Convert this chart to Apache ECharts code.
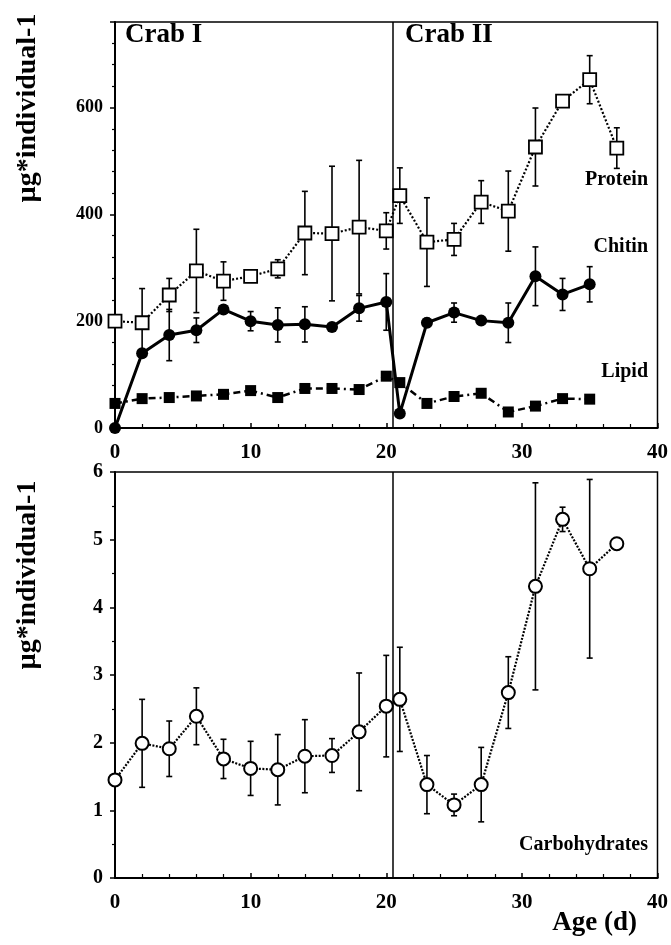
<!DOCTYPE html>
<html style="height: 100%">
<head>
<meta charset="utf-8">
<script src="https://cdn.jsdelivr.net/npm/echarts@6/dist/echarts.min.js"></script>
</head>
<body style="height: 100%; margin: 0; background-color: #fff">
<div id="container" style="width: 671px; height: 945px"></div>
<script type="text/javascript">
// age in days
var days = [0, 2, 4, 6, 8, 10, 12, 14, 16, 18, 20, 21, 23, 25, 27, 29, 31, 33, 35, 37];
var days2 = [0, 2, 4, 6, 8, 10, 12, 14, 16, 18, 20, 21, 23, 25, 27, 29, 31, 33, 35];

var protein = [200, 197, 249, 294, 275, 284, 298, 365, 364, 376, 369, 435, 348, 353, 423, 406, 526, 612, 652, 524];
var proteinSd = [null, 64, 31, 78, 36, 8, 17, 78, 126, 125, 34, 52, 83, 30, 40, 75, 73, null, 45, 38];

var chitin = [0, 140, 174, 183, 222, 200, 193, 194, 189, 224, 236, 27, 197, 216, 201, 197, 284, 250, 269];
var chitinSd = [null, null, 48, 23, null, 18, 32, 33, null, 24, 53, null, 8, 18, 7, 37, 55, 30, 33];

var lipid = [46, 55, 57, 60, 63, 70, 57, 74, 74, 72, 97, 85, 46, 59, 65, 30, 41, 55, 54];

var carbo = [1.45, 1.99, 1.91, 2.39, 1.76, 1.62, 1.60, 1.80, 1.81, 2.16, 2.54, 2.64, 1.38, 1.08, 1.38, 2.74, 4.31, 5.30, 4.57, 4.94];
var carboSd = [null, 0.65, 0.41, 0.42, 0.29, 0.40, 0.52, 0.54, 0.25, 0.87, 0.75, 0.77, 0.43, 0.16, 0.55, 0.53, 1.53, 0.18, 1.32, null];

var moultDay = 20.5;

var FONT = 'Liberation Serif';

function pairs(xs, ys) {
    return xs.map(function (x, i) { return [x, ys[i]]; });
}
function errData(xs, ys, sd) {
    var out = [];
    xs.forEach(function (x, i) {
        if (sd[i] != null) out.push([x, ys[i] - sd[i], ys[i] + sd[i]]);
    });
    return out;
}
function errSeries(idx, data) {
    return {
        type: 'custom',
        xAxisIndex: idx,
        yAxisIndex: idx,
        z: 1,
        silent: true,
        data: data,
        encode: { x: 0, y: [1, 2] },
        renderItem: function (params, api) {
            var lo = api.coord([api.value(0), api.value(1)]);
            var hi = api.coord([api.value(0), api.value(2)]);
            var w = 3;
            var st = { stroke: '#000', lineWidth: 1.6 };
            return {
                type: 'group',
                children: [
                    { type: 'line', shape: { x1: lo[0], y1: lo[1], x2: hi[0], y2: hi[1] }, style: st },
                    { type: 'line', shape: { x1: lo[0] - w, y1: lo[1], x2: lo[0] + w, y2: lo[1] }, style: st },
                    { type: 'line', shape: { x1: hi[0] - w, y1: hi[1], x2: hi[0] + w, y2: hi[1] }, style: st }
                ]
            };
        }
    };
}

var chart = echarts.init(document.getElementById('container'));

function xAxisCfg(idx) {
    return {
        gridIndex: idx,
        type: 'value',
        min: 0,
        max: 40,
        interval: 10,
        axisLine: { show: true, lineStyle: { color: '#000', width: 2 } },
        axisTick: { show: true, inside: true, length: 5, lineStyle: { color: '#000', width: 1.5 } },
        minorTick: { show: true, splitNumber: 5, length: 4, lineStyle: { color: '#000', width: 1.2 } },
        splitLine: { show: false },
        axisLabel: { color: '#000', fontFamily: FONT, fontWeight: 'bold', fontSize: 21, margin: 14 }
    };
}
function yAxisCfg(idx, max, interval, minorSplit, fs, showMax) {
    return {
        gridIndex: idx,
        type: 'value',
        min: 0,
        max: max,
        interval: interval,
        axisLine: { show: true, lineStyle: { color: '#000', width: 2 } },
        axisTick: { show: true, inside: false, length: 5, lineStyle: { color: '#000', width: 1.5 } },
        minorTick: { show: true, splitNumber: minorSplit, length: 3, lineStyle: { color: '#000', width: 1.2 } },
        splitLine: { show: false },
        axisLabel: {
            color: '#000', fontFamily: FONT, fontWeight: 'bold', fontSize: fs, margin: 12,
            showMaxLabel: showMax,
            formatter: function (v) { return (v % interval === 0) ? String(v) : ''; }
        }
    };
}

var vline = {
    silent: true,
    symbol: 'none',
    label: { show: false },
    lineStyle: { color: '#000', width: 1.5, type: 'solid' },
    data: [{ xAxis: moultDay }]
};

var option = {
    animation: false,
    grid: [
        { left: 115, right: 13, top: 22, height: 406, show: true, borderColor: '#000', borderWidth: 1.5, backgroundColor: 'transparent' },
        { left: 115, right: 13, top: 472, height: 406, show: true, borderColor: '#000', borderWidth: 1.5, backgroundColor: 'transparent' }
    ],
    xAxis: [xAxisCfg(0), xAxisCfg(1)],
    yAxis: [yAxisCfg(0, 760, 200, 5, 18, false), yAxisCfg(1, 6, 1, 2, 20, true)],
    graphic: [
        { type: 'text', left: 125, top: 22, style: { text: 'Crab I', font: 'bold 27px ' + FONT, fill: '#000' } },
        { type: 'text', left: 405, top: 22, style: { text: 'Crab II', font: 'bold 27px ' + FONT, fill: '#000' } },
        { type: 'text', right: 23, top: 170, style: { text: 'Protein', font: 'bold 20px ' + FONT, fill: '#000' } },
        { type: 'text', right: 23, top: 237, style: { text: 'Chitin', font: 'bold 20px ' + FONT, fill: '#000' } },
        { type: 'text', right: 23, top: 362, style: { text: 'Lipid', font: 'bold 20px ' + FONT, fill: '#000' } },
        { type: 'text', right: 23, top: 835, style: { text: 'Carbohydrates', font: 'bold 20px ' + FONT, fill: '#000' } },
        { type: 'text', right: 34, top: 910, style: { text: 'Age (d)', font: 'bold 27px ' + FONT, fill: '#000' } },
        { type: 'text', x: 28, y: 108, rotation: Math.PI / 2, style: { text: 'µg*individual-1', font: 'bold 28px ' + FONT, fill: '#000', align: 'center', verticalAlign: 'middle' } },
        { type: 'text', x: 28, y: 575, rotation: Math.PI / 2, style: { text: 'µg*individual-1', font: 'bold 28px ' + FONT, fill: '#000', align: 'center', verticalAlign: 'middle' } }
    ],
    series: [
        errSeries(0, errData(days, protein, proteinSd)),
        errSeries(0, errData(days2, chitin, chitinSd)),
        errSeries(1, errData(days, carbo, carboSd)),
        {
            name: 'Lipid',
            type: 'line',
            xAxisIndex: 0, yAxisIndex: 0,
            data: pairs(days2, lipid),
            symbol: 'rect',
            symbolSize: 11,
            itemStyle: { color: '#000' },
            lineStyle: { color: '#000', width: 2.5, type: [7, 4, 2, 4] },
            z: 2
        },
        {
            name: 'Chitin',
            type: 'line',
            xAxisIndex: 0, yAxisIndex: 0,
            data: pairs(days2, chitin),
            symbol: 'circle',
            symbolSize: 12,
            itemStyle: { color: '#000' },
            lineStyle: { color: '#000', width: 3 },
            z: 3
        },
        {
            name: 'Protein',
            type: 'line',
            xAxisIndex: 0, yAxisIndex: 0,
            data: pairs(days, protein),
            symbol: 'rect',
            symbolSize: 13,
            itemStyle: { color: '#fff', borderColor: '#000', borderWidth: 1.8 },
            lineStyle: { color: '#000', width: 2.2, type: [2, 2] },
            markLine: vline,
            z: 4
        },
        {
            name: 'Carbohydrates',
            type: 'line',
            xAxisIndex: 1, yAxisIndex: 1,
            data: pairs(days, carbo),
            symbol: 'circle',
            symbolSize: 13,
            itemStyle: { color: '#fff', borderColor: '#000', borderWidth: 2 },
            lineStyle: { color: '#000', width: 2.2, type: [2, 1.5] },
            markLine: vline,
            z: 4
        }
    ]
};

if (option && typeof option === 'object') {
    chart.setOption(option);
}
</script>
</body>
</html>
